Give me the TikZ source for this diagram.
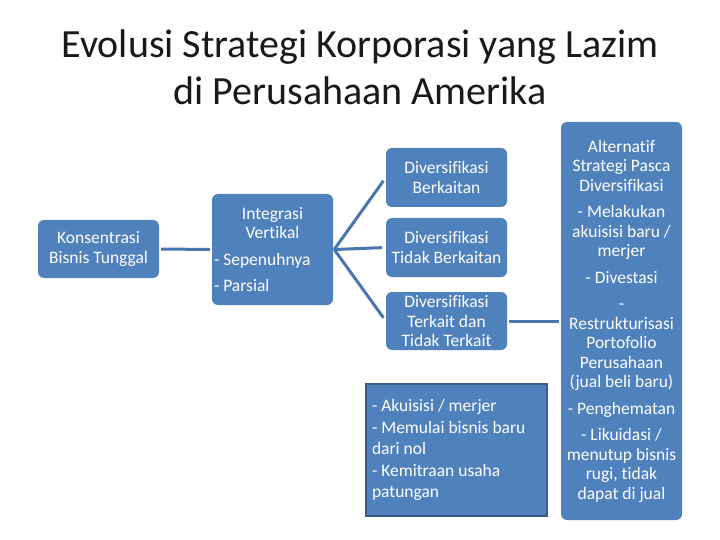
\documentclass[tikz,border=0pt]{standalone}
\usepackage{fontspec}
\setmainfont[Ligatures=NoCommon]{Carlito}
\definecolor{boxblue}{HTML}{4F81BD}
\definecolor{linkblue}{HTML}{4A76AE}
\definecolor{edgeblue}{HTML}{385D8A}
\tikzset{
  box/.style={fill=boxblue, rounded corners=6pt, text=white, inner sep=2pt,
    minimum width=121pt, font=\fontsize{17.5}{19.5}\selectfont, align=flush center},
  plainbox/.style={fill=boxblue, draw=edgeblue, line width=2.5pt, text=white, inner sep=6pt,
    minimum width=181pt, minimum height=132pt, font=\fontsize{17.5}{21.5}\selectfont, align=flush left},
  conn/.style={draw=linkblue, line width=3pt, shorten <=2pt, shorten >=2pt},
  fan/.style={draw=linkblue, line width=3pt, shorten >=4pt},
  titletext/.style={font=\fontsize{40}{47}\selectfont, text=black!90, align=flush center}
}
\begin{document}
\begin{tikzpicture}[x=1pt,y=-1pt]
\useasboundingbox[fill=white] (0,0) rectangle (720,540);
\node[titletext] (title) at (360,67) {Evolusi Strategi Korporasi yang Lazim\\di Perusahaan Amerika};
\node[box, minimum height=58pt] (kons) at (98.5,249) {Konsentrasi\\Bisnis Tunggal};
\node[box, minimum height=111pt] (integ) at (272.5,249.5)
  {\parbox{117pt}{\centering Integrasi\\Vertikal\par\vspace{7pt}\raggedright - Sepenuhnya\par\vspace{7pt}- Parsial}};
\node[box, minimum height=59pt] (div1) at (446.5,177.5) {Diversifikasi\\Berkaitan};
\node[box, minimum height=59pt] (div2) at (446.5,247.5) {Diversifikasi\\Tidak Berkaitan};
\node[box, minimum height=58pt] (div3) at (446.5,321) {Diversifikasi\\Terkait dan\\Tidak Terkait};
\node[box, minimum height=398pt, text width=117pt] (alt) at (621.5,321)
  {Alternatif\\Strategi Pasca\\Diversifikasi\\[7pt]
   - Melakukan\\akuisisi baru /\\merjer\\[7pt]
   - Divestasi\\[7pt]
   -\\Restrukturisasi\\Portofolio\\Perusahaan\\(jual beli baru)\\[7pt]
   - Penghematan\\[7pt]
   - Likuidasi /\\menutup bisnis\\rugi, tidak\\dapat di jual};
\node[plainbox, text width=169pt] (cara) at (456.5,450)
  {- Akuisisi / merjer\\- Memulai bisnis baru\\dari nol\\- Kemitraan usaha\\patungan};
\draw[conn] (kons) -- (integ);
\draw[fan] ([xshift=1pt]integ.east) -- (div1.west);
\draw[fan] ([xshift=1pt]integ.east) -- (div2.west);
\draw[fan] ([xshift=1pt]integ.east) -- (div3.west);
\draw[conn] (div3) -- (alt);
\end{tikzpicture}
\end{document}
